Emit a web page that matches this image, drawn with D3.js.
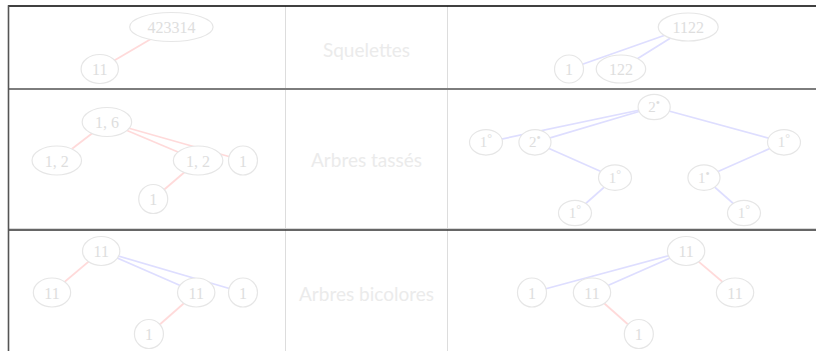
<!DOCTYPE html>
<html><head><meta charset="utf-8">
<script src="https://cdn.jsdelivr.net/npm/d3@7"></script>
<style>html,body{margin:0;padding:0;background:#fff;overflow:hidden}</style>
</head><body><svg id="c" width="816" height="351"></svg>
<script>
// ---------- data ----------
const rowLabels = ["Squelettes", "Arbres tassés", "Arbres bicolores"];

// nodes: label, optional superscript mark, tree depth, horizontal slot
const skelLeftNodes  = [{label:"423314",depth:0,col:2.5},{label:"11",depth:1,col:1}];
const skelLeftEdges  = [[0,1,"red"]];
const skelRightNodes = [{label:"1122",depth:0,col:4.75},{label:"1",depth:1,col:1.95},{label:"122",depth:1,col:3.17}];
const skelRightEdges = [[0,1,"blue"],[0,2,"blue"]];

const packLeftNodes  = [{label:"1, 6",depth:0,col:1.15},{label:"1, 2",depth:1,col:0.1},{label:"1, 2",depth:1,col:3.06},
                        {label:"1",depth:1,col:4},{label:"1",depth:2,col:2.12}];
const packLeftEdges  = [[0,1,"red"],[0,2,"red"],[0,3,"red"],[2,4,"red"]];
const packRightNodes = [{label:"2",sup:"•",depth:0,col:3.95},{label:"1",sup:"°",depth:1,col:0},{label:"2",sup:"•",depth:1,col:1.15},
                        {label:"1",sup:"°",depth:1,col:7},{label:"1",sup:"°",depth:2,col:3.03},{label:"1",sup:"•",depth:2,col:5.12},
                        {label:"1",sup:"°",depth:3,col:2.09},{label:"1",sup:"°",depth:3,col:6.06}];
const packRightEdges = [[0,1,"blue"],[0,2,"blue"],[0,3,"blue"],[2,4,"blue"],[4,6,"blue"],[3,5,"blue"],[5,7,"blue"]];

const bicoLeftNodes  = [{label:"11",depth:0,col:1.03},{label:"11",depth:1,col:0},{label:"11",depth:1,col:3.02},
                        {label:"1",depth:1,col:4},{label:"1",depth:2,col:2.03}];
const bicoLeftEdges  = [[0,1,"red"],[0,2,"blue"],[0,3,"blue"],[2,4,"red"]];
const bicoRightNodes = [{label:"11",depth:0,col:4.7},{label:"1",depth:1,col:1.08},{label:"11",depth:1,col:2.49},
                        {label:"11",depth:1,col:5.85},{label:"1",depth:2,col:3.59}];
const bicoRightEdges = [[0,1,"blue"],[0,2,"blue"],[0,3,"red"],[2,4,"red"]];

// ---------- layout / style ----------
const svg = d3.select("#c");
const colX = [8,285,447,816];
const edgeColor = {red:"#ffdada", blue:"#dedeff"};
const nodeStroke = "#e6e6e6", textFill = "#dedede";

const leftX  = d3.scaleLinear().domain([0,4]).range([52,243]);
const rightX = d3.scaleLinear().domain([0,7]).range([486,784]);

const panels = [
  {nodes:skelLeftNodes, edges:skelLeftEdges, x:leftX,  y:[27,69],   maxD:1, ry:14.5, fs:16},
  {nodes:skelRightNodes,edges:skelRightEdges,x:rightX, y:[27,69],   maxD:1, ry:14,   fs:16},
  {nodes:packLeftNodes, edges:packLeftEdges, x:leftX,  y:[122,199], maxD:2, ry:14.5, fs:16},
  {nodes:packRightNodes,edges:packRightEdges,x:rightX, y:[107,213], maxD:3, ry:12.7, fs:15},
  {nodes:bicoLeftNodes, edges:bicoLeftEdges, x:leftX,  y:[251,334], maxD:2, ry:14.5, fs:16},
  {nodes:bicoRightNodes,edges:bicoRightEdges,x:rightX, y:[251,334], maxD:2, ry:14.5, fs:16}
];

// grid lines
const grid = svg.append("g");
[colX[1], colX[2]].forEach(x => grid.append("line").attr("x1",x+0.5).attr("x2",x+0.5).attr("y1",6).attr("y2",351)
  .attr("stroke","#dddddd").attr("stroke-width",1));
grid.append("line").attr("x1",8).attr("x2",816).attr("y1",89).attr("y2",89).attr("stroke","#7d7d7d").attr("stroke-width",2);
grid.append("line").attr("x1",8).attr("x2",816).attr("y1",228.5).attr("y2",228.5).attr("stroke","#d8d8d8").attr("stroke-width",1);
grid.append("line").attr("x1",8).attr("x2",816).attr("y1",230).attr("y2",230).attr("stroke","#333").attr("stroke-width",1.3);
grid.append("line").attr("x1",8).attr("x2",816).attr("y1",6).attr("y2",6).attr("stroke","#000").attr("stroke-width",1.6);
grid.append("line").attr("x1",8.5).attr("x2",8.5).attr("y1",5.2).attr("y2",351).attr("stroke","#555").attr("stroke-width",1.6);

// row labels
const midX = (colX[1]+colX[2])/2 + 0.5;
svg.append("g").selectAll("text").data(rowLabels).join("text")
  .attr("x", midX).attr("y", (d,i) => [49,159,293][i])
  .attr("text-anchor","middle").attr("dominant-baseline","central")
  .attr("font-family","Lato, 'DejaVu Sans', sans-serif").attr("font-size",19)
  .attr("fill","#ebebeb").text(d => d);

// trees
panels.forEach(p => {
  const ys = d3.scaleLinear().domain([0,p.maxD]).range(p.y);
  const g = svg.append("g");
  const pos = p.nodes.map(n => ({...n, cx:p.x(n.col), cy:ys(n.depth)}));
  g.selectAll("line.e").data(p.edges).join("line").attr("class","e")
    .attr("x1",e=>pos[e[0]].cx).attr("y1",e=>pos[e[0]].cy)
    .attr("x2",e=>pos[e[1]].cx).attr("y2",e=>pos[e[1]].cy)
    .attr("stroke",e=>edgeColor[e[2]]).attr("stroke-width",1.7);
  const ng = g.selectAll("g.n").data(pos).join("g").attr("class","n")
    .attr("transform",d=>`translate(${d.cx},${d.cy})`);
  const el = ng.append("ellipse").attr("fill","#fff").attr("stroke",nodeStroke).attr("stroke-width",1.2);
  const tx = ng.append("text").attr("text-anchor","middle").attr("dominant-baseline","central")
    .attr("font-family","'Liberation Serif','DejaVu Serif',serif").attr("font-size",p.fs).attr("fill",textFill);
  tx.append("tspan").text(d=>d.label);
  tx.filter(d=>d.sup).append("tspan").attr("font-size",p.fs*0.8).attr("dy",-4).text(d=>d.sup);
  tx.each(function(d){
    const w = this.getComputedTextLength();
    d.rx = Math.max((w/2+5.5)*1.414, 14.5);
  });
  el.attr("rx",d=>d.rx).attr("ry",p.ry);
});
</script></body></html>
